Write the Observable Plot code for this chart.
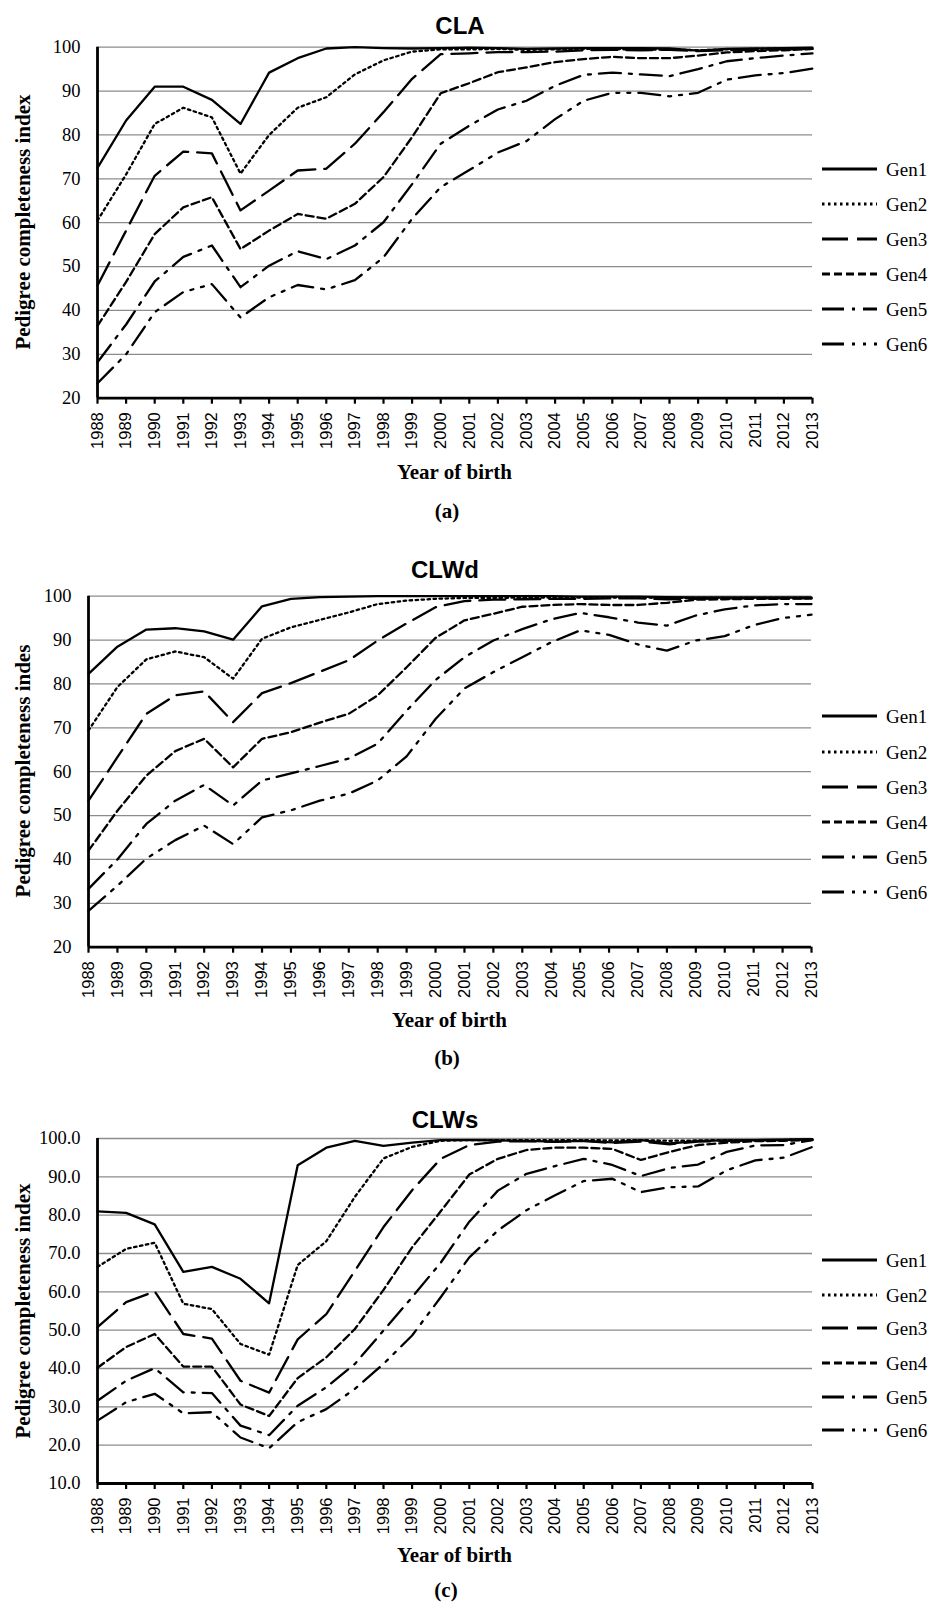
<!DOCTYPE html>
<html>
<head>
<meta charset="utf-8">
<script src="https://cdn.jsdelivr.net/npm/d3@7"></script>
<script src="https://cdn.jsdelivr.net/npm/@observablehq/plot@0.6"></script>
<style>
  html, body { margin: 0; padding: 0; background: #fff; }
  #root { position: relative; width: 932px; height: 1604px; background: #fff; overflow: hidden; color: #000; }
  .abs { position: absolute; white-space: nowrap; line-height: 1; }
  .title { font-family: "Liberation Sans", Arial, sans-serif; font-weight: bold; font-size: 24px; transform: translate(-50%, -50%); }
  .xlab { font-family: "Liberation Serif", "Times New Roman", serif; font-weight: bold; font-size: 21px; transform: translate(-50%, -50%); }
  .cap { font-family: "Liberation Serif", "Times New Roman", serif; font-weight: bold; font-size: 21px; transform: translate(-50%, -50%); }
  .ylab { font-family: "Liberation Serif", "Times New Roman", serif; font-weight: bold; font-size: 21px; transform: translate(-50%, -50%) rotate(-90deg); }
  .plotwrap { position: absolute; left: 0; }
  .legend { position: absolute; }
</style>
</head>
<body>
<div id="root"></div>
<script>
// ---------- data ----------
const years = [1988, 1989, 1990, 1991, 1992, 1993, 1994, 1995, 1996, 1997, 1998, 1999, 2000,
               2001, 2002, 2003, 2004, 2005, 2006, 2007, 2008, 2009, 2010, 2011, 2012, 2013];
const genNames = ["Gen1", "Gen2", "Gen3", "Gen4", "Gen5", "Gen6"];

// (a) CLA
const claGen1 = [72.5, 83.3, 91.0, 91.0, 88.0, 82.5, 94.2, 97.5, 99.7, 100, 99.8, 99.7, 99.8, 99.9, 99.8, 99.6, 99.7, 99.8, 99.8, 99.8, 99.7, 99.2, 99.6, 99.7, 99.8, 99.9];
const claGen2 = [60.5, 71.0, 82.5, 86.2, 84.0, 71.2, 80.0, 86.2, 88.6, 93.8, 97.0, 99.0, 99.5, 99.5, 99.6, 99.4, 99.5, 99.6, 99.6, 99.4, 99.5, 99.3, 99.5, 99.6, 99.7, 99.8];
const claGen3 = [45.7, 58.2, 70.7, 76.2, 75.8, 62.8, 67.3, 71.9, 72.3, 78.0, 85.2, 92.8, 98.4, 98.6, 98.9, 98.9, 99.0, 99.3, 99.4, 99.3, 99.4, 99.1, 99.3, 99.4, 99.5, 99.6];
const claGen4 = [36.5, 46.5, 57.4, 63.5, 65.8, 54.0, 58.2, 62.0, 60.9, 64.3, 70.4, 79.5, 89.5, 91.8, 94.3, 95.4, 96.6, 97.3, 97.8, 97.5, 97.5, 98.1, 98.8, 99.1, 99.3, 99.6];
const claGen5 = [28.2, 36.8, 46.6, 52.2, 54.8, 45.3, 50.2, 53.5, 51.7, 54.8, 60.1, 68.8, 78.0, 82.1, 85.8, 87.8, 91.2, 93.7, 94.2, 93.8, 93.4, 95.0, 96.8, 97.5, 98.1, 98.6];
const claGen6 = [23.4, 30.0, 39.6, 44.2, 46.0, 38.4, 43.0, 45.8, 44.8, 46.9, 52.1, 60.9, 68.1, 72.0, 76.0, 78.6, 83.6, 87.8, 89.6, 89.6, 88.8, 89.6, 92.6, 93.6, 94.1, 95.1];

// (b) CLWd
const clwdGen1 = [82.3, 88.5, 92.4, 92.7, 92.0, 90.1, 97.7, 99.4, 99.8, 99.9, 100, 100, 100, 100, 100, 100, 100, 99.9, 99.9, 99.9, 99.8, 99.7, 99.7, 99.7, 99.7, 99.7];
const clwdGen2 = [69.4, 79.3, 85.6, 87.4, 86.1, 81.2, 90.3, 92.9, 94.6, 96.3, 98.2, 99.0, 99.4, 99.6, 99.6, 99.7, 99.7, 99.7, 99.7, 99.7, 99.6, 99.6, 99.6, 99.6, 99.6, 99.6];
const clwdGen3 = [53.4, 63.3, 73.2, 77.4, 78.3, 71.3, 77.9, 80.2, 82.8, 85.4, 89.9, 93.8, 97.5, 98.9, 99.2, 99.3, 99.4, 99.4, 99.5, 99.5, 99.3, 99.4, 99.5, 99.5, 99.5, 99.5];
const clwdGen4 = [42.0, 51.1, 59.1, 64.7, 67.5, 61.0, 67.5, 69.0, 71.2, 73.2, 77.4, 83.8, 90.5, 94.5, 96.0, 97.6, 98.0, 98.2, 98.0, 98.0, 98.5, 99.2, 99.3, 99.4, 99.4, 99.5];
const clwdGen5 = [33.3, 40.0, 48.1, 53.4, 57.0, 52.3, 58.0, 59.6, 61.3, 63.0, 66.4, 73.9, 80.9, 86.1, 89.9, 92.5, 94.7, 96.2, 95.2, 94.0, 93.3, 95.6, 97.0, 97.9, 98.2, 98.2];
const clwdGen6 = [28.3, 34.0, 40.2, 44.4, 47.7, 43.5, 49.6, 51.2, 53.4, 55.0, 58.0, 63.5, 72.0, 79.0, 82.7, 86.1, 89.5, 92.2, 91.2, 89.0, 87.6, 89.9, 90.9, 93.4, 95.0, 95.8];

// (c) CLWs
const clwsGen1 = [81.0, 80.6, 77.6, 65.2, 66.5, 63.4, 57.0, 93.0, 97.6, 99.4, 98.1, 98.9, 99.6, 99.6, 99.5, 99.4, 99.2, 99.4, 99.0, 99.6, 98.7, 99.4, 99.5, 99.6, 99.7, 99.8];
const clwsGen2 = [66.5, 71.2, 72.8, 56.9, 55.5, 46.4, 43.6, 67.0, 73.2, 84.8, 94.8, 97.8, 99.4, 99.6, 99.6, 99.6, 99.6, 99.6, 99.5, 99.6, 99.4, 99.5, 99.6, 99.6, 99.6, 99.7];
const clwsGen3 = [50.8, 57.3, 60.1, 49.0, 47.8, 36.8, 33.7, 47.6, 54.2, 65.5, 76.9, 86.5, 94.7, 98.3, 99.2, 99.3, 99.1, 99.4, 98.8, 99.2, 98.5, 99.2, 99.4, 99.5, 99.6, 99.7];
const clwsGen4 = [40.2, 45.6, 49.0, 40.5, 40.5, 30.6, 27.6, 37.5, 42.9, 50.3, 60.5, 71.6, 81.0, 90.6, 94.7, 97.0, 97.6, 97.6, 97.3, 94.4, 96.5, 98.3, 98.9, 99.3, 99.4, 99.6];
const clwsGen5 = [31.6, 36.8, 40.1, 33.8, 33.6, 25.1, 22.6, 30.3, 35.1, 41.2, 49.9, 58.6, 67.6, 78.3, 86.4, 90.8, 92.8, 94.7, 93.1, 90.2, 92.3, 93.2, 96.5, 98.2, 98.3, 99.6];
const clwsGen6 = [26.4, 31.2, 33.4, 28.3, 28.6, 22.0, 19.2, 26.0, 29.4, 34.7, 41.2, 48.6, 58.6, 69.0, 76.0, 81.3, 85.2, 88.9, 89.5, 86.0, 87.3, 87.5, 91.7, 94.3, 95.0, 97.8];

const ticksAB = [20, 30, 40, 50, 60, 70, 80, 90, 100];
const ticksC = [10, 20, 30, 40, 50, 60, 70, 80, 90, 100];

// ---------- styles ----------
const genDash = [null, "2.5,3.5", "26,9", "8,4", "22,8,3,8", "22,8,3,8,3,8"];
const SERIF = '"Liberation Serif", "Times New Roman", serif';
const SANS = '"Liberation Sans", Arial, sans-serif';

const root = document.getElementById("root");

function addDiv(cls, text, x, y) {
  const d = document.createElement("div");
  d.className = "abs " + cls;
  d.textContent = text;
  d.style.left = x + "px";
  d.style.top = y + "px";
  root.appendChild(d);
}

function panel(cfg) {
  const rows = [];
  cfg.series.forEach((vals, i) => vals.forEach((v, j) => rows.push({year: years[j], value: v, gen: genNames[i]})));
  const yTicks = cfg.yTicks;
  const yDomain = [yTicks[0], yTicks[yTicks.length - 1]];
  const plot = Plot.plot({
    width: 932,
    height: cfg.h,
    marginLeft: cfg.left,
    marginRight: 932 - cfg.right,
    marginTop: cfg.plotTop - cfg.top,
    marginBottom: cfg.top + cfg.h - cfg.plotBottom,
    x: {type: "linear", domain: [years[0], years[years.length - 1]]},
    y: {type: "linear", domain: yDomain},
    style: {background: "transparent", overflow: "visible", color: "black"},
    marks: [
      Plot.gridY(yTicks, {stroke: "#8c8c8c", strokeOpacity: 1, strokeWidth: 1.3}),
      ...genNames.map((g, i) => Plot.line(rows.filter(r => r.gen === g), {
        x: "year", y: "value", stroke: "black", strokeWidth: 2.3,
        strokeDasharray: genDash[i] || undefined, strokeLinejoin: "round"
      })),
      Plot.ruleX([years[0]], {y1: yDomain[0], y2: yDomain[1], stroke: "black", strokeWidth: 2.8}),
      Plot.ruleY([yDomain[0]], {stroke: "black", strokeWidth: 2.8}),
      Plot.axisX({
        ticks: years, tickFormat: d => String(d), tickRotate: -90, tickSize: 6, tickPadding: 8,
        stroke: "black", strokeWidth: 2.2, fill: "black",
        fontSize: 16.5, fontFamily: SANS, label: null
      }),
      Plot.axisY({
        ticks: yTicks, tickFormat: cfg.fmt, tickSize: 0, tickPadding: 17, fill: "black",
        fontSize: 18.5, fontFamily: SERIF, label: null
      })
    ]
  });
  const wrap = document.createElement("div");
  wrap.className = "plotwrap";
  wrap.style.top = cfg.top + "px";
  wrap.appendChild(plot);
  root.appendChild(wrap);

  // texts
  addDiv("title", cfg.title, cfg.titleX, cfg.titleY);
  addDiv("ylab", cfg.ylabel, 23, (cfg.plotTop + cfg.plotBottom) / 2);
  addDiv("xlab", "Year of birth", (cfg.left + cfg.right) / 2, cfg.plotBottom + cfg.xlabOff);
  addDiv("cap", cfg.caption, cfg.capX, cfg.plotBottom + cfg.capOff);

  // legend
  const lx = 812, ltop = cfg.legendY[0] - 20;
  const svg = d3.create("svg")
    .attr("width", 120).attr("height", 220)
    .style("position", "absolute").style("left", lx + "px").style("top", ltop + "px")
    .style("overflow", "visible");
  genNames.forEach((g, i) => {
    const y = cfg.legendY[i] - ltop;
    svg.append("line")
      .attr("x1", 10).attr("x2", 65).attr("y1", y).attr("y2", y)
      .attr("stroke", "black").attr("stroke-width", 3)
      .attr("stroke-dasharray", genDash[i] || null);
    svg.append("text")
      .attr("x", 74).attr("y", y).attr("dy", "0.35em")
      .style("font-family", SERIF)
      .style("font-size", "19px").attr("fill", "black")
      .text(g);
  });
  root.appendChild(svg.node());
}

panel({
  title: "CLA", titleX: 460, titleY: 26,
  caption: "(a)", capX: 447, xlabOff: 74, capOff: 113,
  ylabel: "Pedigree completeness index",
  top: 0, h: 460, plotTop: 46.7, plotBottom: 397.7, left: 97, right: 812,
  yTicks: ticksAB, fmt: d => String(d),
  series: [claGen1, claGen2, claGen3, claGen4, claGen5, claGen6],
  legendY: [169, 204, 239, 274, 309, 344]
});

panel({
  title: "CLWd", titleX: 445, titleY: 570,
  caption: "(b)", capX: 447, xlabOff: 73, capOff: 111,
  ylabel: "Pedigree completeness indes",
  top: 540, h: 470, plotTop: 595.7, plotBottom: 946.7, left: 88, right: 811,
  yTicks: ticksAB, fmt: d => String(d),
  series: [clwdGen1, clwdGen2, clwdGen3, clwdGen4, clwdGen5, clwdGen6],
  legendY: [716, 752, 787, 822, 857, 892]
});

panel({
  title: "CLWs", titleX: 445, titleY: 1120,
  caption: "(c)", capX: 446, xlabOff: 72, capOff: 107,
  ylabel: "Pedigree completeness index",
  top: 1090, h: 460, plotTop: 1138, plotBottom: 1483, left: 97, right: 812,
  yTicks: ticksC, fmt: d => d.toFixed(1),
  series: [clwsGen1, clwsGen2, clwsGen3, clwsGen4, clwsGen5, clwsGen6],
  legendY: [1260, 1295, 1328, 1363, 1397, 1430]
});
</script>
</body>
</html>
